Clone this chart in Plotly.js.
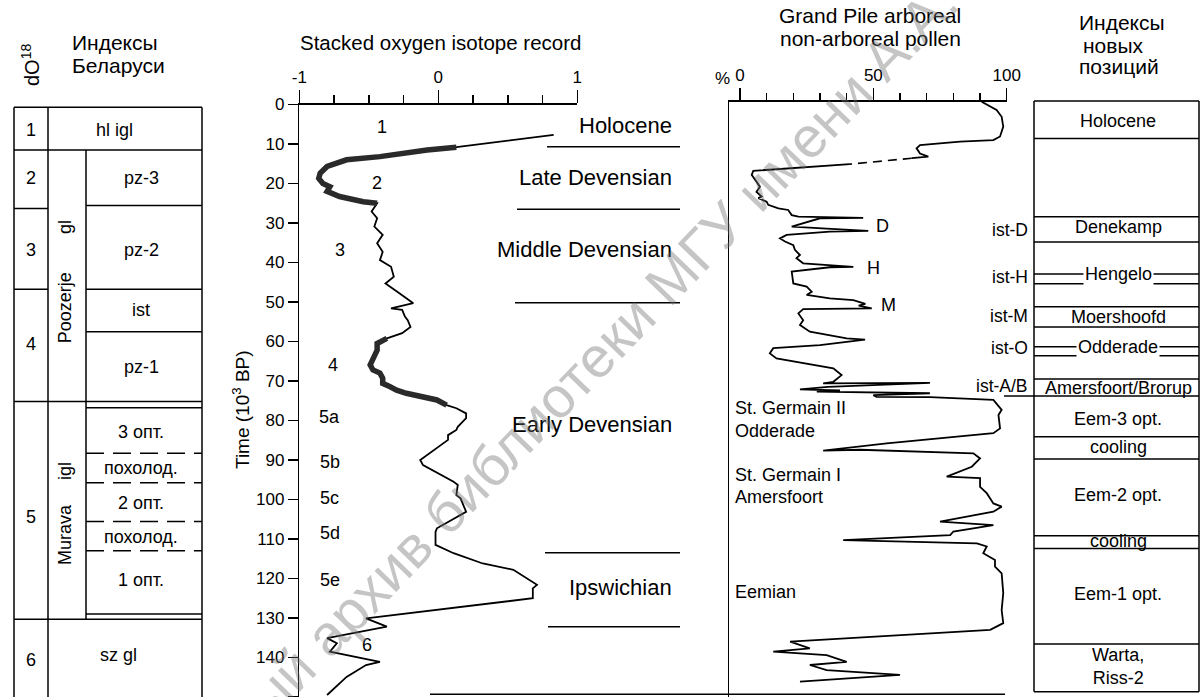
<!DOCTYPE html>
<html><head><meta charset="utf-8">
<script src="https://cdn.plot.ly/plotly-3.0.1.min.js"></script>
<style>html,body{margin:0;padding:0;background:#fff;overflow:hidden}</style>
</head><body><div id="chart" style="width:1201px;height:697px"></div>
<script>
// ================= DATA =================
// Stacked oxygen isotope record (age, ka BP ; normalised d18O)
const isoAge = [7.7, 10.8, 11.5, 13.2, 14.0, 15.7, 17.4, 18.7, 20.0, 20.8, 22.0, 23.3, 24.6, 25.0, 27.1, 28.8, 30.9, 33.0, 35.1, 37.3, 39.4, 41.1, 43.6, 45.3, 47.8, 50.3, 51.6, 52.0, 53.7, 54.6, 56.3, 57.9, 59.2, 60.5, 62.2, 64.7, 65.9, 67.2, 68.0, 69.3, 70.6, 71.4, 72.3, 73.1, 74.0, 74.8, 76.1, 76.9, 78.2, 79.4, 81.6, 82.4, 83.7, 84.9, 90.0, 91.3, 95.5, 96.3, 98.9, 99.7, 103.1, 107.3, 108.2, 111.5, 113.6, 116.2, 117.8, 121.6, 122.5, 125.0, 130.1, 132.2, 135.1, 136.4, 138.5, 141.1, 141.9, 144.9, 149.5];
const isoVal = [0.83, 0.13, -0.08, -0.42, -0.66, -0.80, -0.85, -0.86, -0.83, -0.78, -0.80, -0.71, -0.54, -0.44, -0.48, -0.44, -0.46, -0.40, -0.44, -0.40, -0.42, -0.34, -0.32, -0.38, -0.28, -0.18, -0.34, -0.26, -0.24, -0.22, -0.20, -0.26, -0.37, -0.44, -0.44, -0.48, -0.49, -0.47, -0.42, -0.40, -0.40, -0.35, -0.30, -0.23, -0.11, -0.01, 0.06, 0.13, 0.20, 0.20, 0.14, 0.13, 0.07, 0.07, -0.13, -0.11, 0.11, 0.14, 0.13, 0.16, 0.20, -0.01, -0.02, -0.02, 0.11, 0.32, 0.54, 0.71, 0.68, 0.68, -0.52, -0.37, -0.80, -0.73, -0.78, -0.42, -0.52, -0.66, -0.80];
const isoDenseBands = [[10.8, 25.0], [59.2, 76.1]];
const isoTickVals = [-1, 0, 1];
const isoTickText = ['-1', '0', '1'];
const isoStageLabels = ['1', '2', '3', '4', '5a', '5b', '5c', '5d', '5e', '6'];
const isoStageAge = [5.7, 19.9, 36.8, 65.9, 79.1, 90.5, 99.6, 108.5, 120.4, 136.8];
const isoStageVal = [-0.405, -0.44, -0.71, -0.76, -0.78, -0.78, -0.78, -0.78, -0.78, -0.51];

// Chronostratigraphic stages next to the isotope curve
const stageNames = ['Holocene', 'Late Devensian', 'Middle Devensian', 'Early Devensian', 'Ipswichian'];
const stageNameAge = [5.2, 18.6, 36.8, 81.1, 122.4];
const stageBoundAge = [10.7, 26.5, 50.2, 113.5, 132.2];

// Grand Pile arboreal pollen (%), three pieces: upper, dashed gap, lower
const polAgeA = [-0.7, 1.4, 3.1, 5.6, 8.1, 9.0, 9.4, 10.3, 11.1, 12.4, 13.2, 13.6];
const polValA = [90.6, 96.2, 98.1, 98.7, 97.5, 95.0, 82.5, 67.5, 66.2, 67.5, 70.6, 64.4];
const polGapAge = [13.6, 15.1];
const polGapVal = [64.4, 41.2];
const polAgeB = [15.1, 16.8, 17.8, 20.8, 22.1, 23.3, 23.7, 24.6, 25.4, 26.3, 26.7, 28.0, 28.4, 28.6, 28.7, 28.8, 30.9, 31.4, 32.0, 32.2, 33.0, 33.9, 34.7, 35.6, 36.8, 38.1, 38.9, 40.2, 40.6, 41.1, 41.2, 42.3, 45.3, 46.1, 47.4, 48.2, 49.1, 49.5, 50.5, 50.9, 51.6, 51.8, 52.9, 54.6, 55.8, 57.5, 59.2, 59.5, 60.9, 61.7, 63.0, 64.3, 66.8, 68.5, 70.2, 70.6, 70.5, 71.5, 72.1, 72.4, 72.7, 73.1, 73.6, 74.0, 74.1, 74.8, 77.3, 78.6, 82.0, 83.2, 85.8, 87.0, 87.6, 87.4, 88.3, 89.6, 91.7, 94.2, 94.6, 96.8, 98.4, 101.0, 101.8, 103.1, 105.6, 106.5, 108.1, 109.0, 110.3, 111.1, 111.9, 113.6, 115.3, 117.0, 118.7, 123.7, 128.0, 131.3, 133.0, 136.0, 137.7, 138.5, 139.4, 141.1, 141.9, 143.2, 144.4, 146.1];
const polValB = [41.2, 5.0, 4.4, 7.5, 6.2, 8.1, 6.9, 10.0, 10.6, 14.4, 18.1, 19.4, 21.9, 38.7, 46.2, 30.0, 19.4, 32.5, 48.1, 33.7, 17.5, 15.0, 16.9, 20.0, 20.6, 22.5, 21.2, 23.7, 33.7, 42.5, 33.7, 19.4, 20.0, 25.0, 26.9, 25.0, 33.7, 42.5, 47.0, 44.5, 49.4, 23.7, 21.9, 23.7, 22.5, 26.2, 40.0, 46.9, 30.0, 12.5, 11.2, 13.7, 35.0, 38.1, 35.0, 31.2, 71.2, 33.0, 22.5, 37.5, 28.8, 71.2, 50.0, 51.2, 71.2, 95.0, 98.1, 96.9, 97.5, 95.0, 55.0, 40.0, 31.2, 45.0, 87.5, 90.0, 86.9, 77.5, 90.0, 90.0, 92.5, 95.0, 98.1, 95.0, 75.0, 95.0, 80.0, 78.8, 38.7, 88.8, 92.5, 91.2, 95.6, 95.6, 98.1, 98.7, 98.1, 98.7, 93.8, 18.8, 26.2, 12.5, 32.5, 40.0, 26.2, 32.5, 60.0, 22.5];
const polPeakLabels = ['D', 'H', 'M'];
const polPeakAge = [30.8, 41.4, 50.8];
const polPeakVal = [53.6, 50.2, 55.5];
const polZoneLabels = ['St. Germain II', 'Odderade', 'St. Germain I', 'Amersfoort', 'Eemian'];
const polZoneAge = [76.8, 82.7, 93.8, 99.4, 123.4];

// Left table: Belarus indices (boundaries in ka BP)
const byFullLines = [0.7, 11.5, 75.2, 130.3];
const byCol1Lines = [26.3, 46.8];
const byCol3Lines = [25.6, 46.8, 57.5, 76.8, 129.0];
const byCol3Dashed = [88.3, 95.75, 105.6, 113.0];
const byStageNums = ['1', '2', '3', '4', '5', '6'];
const byStageAge = [6.5, 18.6, 36.8, 60.6, 104.4, 140.6];
const byUnitLabels = ['pz-3', 'pz-2', 'ist', 'pz-1', '3 опт.', 'похолод.', '2 опт.', 'похолод.', '1 опт.'];
const byUnitAge = [18.6, 36.8, 52.0, 66.5, 82.9, 92.0, 100.9, 109.5, 120.4];
const bySpanLabels = ['hl igl', 'sz gl'];
const bySpanAge = [6.5, 139.4];
const byGroupLabels = ['gl', 'Poozerje', 'igl', 'Murava'];
const byGroupAge = [31.0, 51.6, 92.8, 109.0];

// Right table: new position indices
const rtBounds = [-0.9, 8.6, 28.4, 34.8, 42.9, 45.4, 51.2, 56.3, 61.3, 63.6, 69.5, 73.8, 84.1, 89.75, 109.2, 112.4, 136.6, 148.7];
const rtLabels = ['Holocene', 'Denekamp', 'Hengelo', 'Moershoofd', 'Odderade', 'Amersfoort/Brorup', 'Eem-3 opt.', 'cooling', 'Eem-2 opt.', 'cooling', 'Eem-1 opt.', 'Warta,<br>Riss-2'];
const rtLabelAge = [4.2, 31.1, 43.0, 53.7, 61.3, 71.8, 79.5, 86.8, 98.9, 110.6, 123.8, 142.3];
const rtOnLine = ['Hengelo', 'Odderade'];
const istLabels = ['ist-D', 'ist-H', 'ist-M', 'ist-O', 'ist-A/B'];
const istAge = [31.8, 43.6, 53.5, 61.7, 71.2];

const watermark = 'Электронный архив библиотеки МГУ имени А.А. Кулешова';

// ================= DRAWING =================
const W = 1201, H = 697;
const FONT = 'Liberation Sans, Arial, Helvetica, sans-serif';
const px = v => v / W;
const py = v => 1 - v / H;
const T0 = 104.5, PPU = (H - T0) / 150;
const f = (size, color) => ({family: FONT, size: size, color: color || '#000'});

const shapes = [], ann = [];
function hline(t, x0, x1, yref, dash) {
  shapes.push({type: 'line', xref: 'paper', yref: yref, x0: px(x0), x1: px(x1), y0: t, y1: t,
    line: {color: '#000', width: 1.5, dash: dash || 'solid'}});
}
function vline(x, t0, t1, yref) {
  shapes.push({type: 'line', xref: 'paper', yref: yref, x0: px(x), x1: px(x), y0: t0, y1: t1,
    line: {color: '#000', width: 1.5}});
}
function note(text, x, y, o) {
  ann.push(Object.assign({text: text, x: x, y: y, xref: 'paper', yref: 'paper', showarrow: false,
    xanchor: 'center', yanchor: 'middle', font: f(17)}, o || {}));
}

// ---- left table
const LX = [14, 48, 86, 202];
byFullLines.forEach(t => hline(t, LX[0], LX[3], 'y3'));
byCol1Lines.forEach(t => hline(t, LX[0], LX[1], 'y3'));
byCol3Lines.forEach(t => hline(t, LX[2], LX[3], 'y3'));
byCol3Dashed.forEach(t => hline(t, LX[2], LX[3], 'y3', '18px,9px'));
vline(LX[0], byFullLines[0], 150, 'y3');
vline(LX[1], byFullLines[0], 150, 'y3');
vline(LX[3], byFullLines[0], 150, 'y3');
vline(LX[2], byFullLines[1], byFullLines[3], 'y3');
byStageNums.forEach((s, i) => note(s, px(31), byStageAge[i], {yref: 'y3', font: f(18)}));
byUnitLabels.forEach((s, i) => note(s, px(141), byUnitAge[i], {yref: 'y3', font: f(18)}));
note(bySpanLabels[0], px(114), bySpanAge[0], {yref: 'y3', font: f(18)});
note(bySpanLabels[1], px(118), bySpanAge[1], {yref: 'y3', font: f(18)});
byGroupLabels.forEach((s, i) => note(s, px(65), byGroupAge[i], {yref: 'y3', textangle: -90, font: f(18)}));
note('dO<sup>18</sup>', px(30), py(65), {textangle: -90, font: f(20)});
note('Индексы', px(70), py(43), {xanchor: 'left', font: f(21)});
note('Беларуси', px(70), py(65), {xanchor: 'left', font: f(21)});

// ---- isotope panel extras
const stageLineStart = [547, 517, 515, 545, 548];
stageBoundAge.forEach((t, i) => hline(t, stageLineStart[i], 680, 'y'));
stageNames.forEach((s, i) => note(s, px(674), stageNameAge[i], {yref: 'y', xanchor: 'right', font: f(22)}));
isoStageLabels.forEach((s, i) => note(s, isoStageVal[i], isoStageAge[i], {xref: 'x', yref: 'y', font: f(18)}));
note('Stacked oxygen isotope record', px(440), py(42), {font: f(20.5)});
note('Time (10<sup>3</sup> BP)', px(241), py(410), {textangle: -90, font: f(19)});
hline(149.3, 430, 1005, 'y');

// ---- pollen panel extras
polPeakLabels.forEach((s, i) => note(s, polPeakVal[i], polPeakAge[i], {xref: 'x2', yref: 'y2', font: f(18)}));
polZoneLabels.forEach((s, i) => note(s, -2.6, polZoneAge[i], {xref: 'x2', yref: 'y2', xanchor: 'left', font: f(18)}));
note('%', px(722), py(79), {font: f(17)});
note('Grand Pile arboreal', px(870), py(16), {font: f(21)});
note('non-arboreal pollen', px(870), py(39), {font: f(21)});

// ---- right table
rtBounds.forEach(t => hline(t, 1034, 1199, 'y3'));
vline(1034, rtBounds[0], rtBounds[rtBounds.length - 1], 'y3');
vline(1199, rtBounds[0], rtBounds[rtBounds.length - 1], 'y3');
hline(rtBounds[11], 1004, 1034, 'y3');
rtLabels.forEach((s, i) => {
  const o = {yref: 'y3', font: f(18)};
  if (rtOnLine.indexOf(s) >= 0) { o.bgcolor = '#fff'; o.borderpad = 1; }
  note(s, px(1118), rtLabelAge[i], o);
});
istLabels.forEach((s, i) => note(s, px(1030), istAge[i], {yref: 'y3', xanchor: 'right', font: f(17.5)}));
note('Индексы', px(1122), py(23), {font: f(21)});
note('новых', px(1113), py(45), {font: f(21)});
note('позиций', px(1119), py(66), {font: f(21)});

// ---- watermark
note(watermark, px(600), py(352), {textangle: -46, font: f(57, 'rgba(110,110,110,0.40)')});

// ---- traces
const traces = [];
traces.push({x: isoVal, y: isoAge, xaxis: 'x', yaxis: 'y', mode: 'lines', line: {color: '#000', width: 1.8}, hoverinfo: 'skip'});
isoDenseBands.forEach(([a, b]) => {
  const idx = isoAge.map((t, i) => i).filter(i => isoAge[i] >= a && isoAge[i] <= b);
  traces.push({x: idx.map(i => isoVal[i]), y: idx.map(i => isoAge[i]), xaxis: 'x', yaxis: 'y', mode: 'lines',
    line: {color: '#2a2a2a', width: 5.5}, hoverinfo: 'skip'});
});
traces.push({x: polValA, y: polAgeA, xaxis: 'x2', yaxis: 'y2', mode: 'lines', line: {color: '#000', width: 1.8}, hoverinfo: 'skip'});
traces.push({x: polGapVal, y: polGapAge, xaxis: 'x2', yaxis: 'y2', mode: 'lines', line: {color: '#000', width: 1.6, dash: '9px,6px'}, hoverinfo: 'skip'});
traces.push({x: polValB, y: polAgeB, xaxis: 'x2', yaxis: 'y2', mode: 'lines', line: {color: '#000', width: 1.8}, hoverinfo: 'skip'});
traces.push({x: [], y: [], xaxis: 'x3', yaxis: 'y3', mode: 'lines', hoverinfo: 'skip'});

const axLine = {showline: true, linecolor: '#000', linewidth: 1.5, showgrid: false, zeroline: false, fixedrange: true};
const layout = {
  width: W, height: H, margin: {l: 0, r: 0, t: 0, b: 0},
  paper_bgcolor: '#fff', plot_bgcolor: 'rgba(0,0,0,0)', showlegend: false,
  font: f(17),
  xaxis: Object.assign({domain: [px(299.3), px(577.3)], range: [-1, 1], side: 'top', anchor: 'y',
    tickmode: 'array', tickvals: isoTickVals, ticktext: isoTickText, ticks: 'outside', ticklen: 13, tickwidth: 1.5, tickcolor: '#000',
    tickfont: f(17), minor: {tick0: -1, dtick: 0.25, ticks: 'outside', ticklen: 8, tickwidth: 1.5, tickcolor: '#000', showgrid: false}}, axLine),
  yaxis: Object.assign({domain: [0, py(T0)], range: [150, 0], anchor: 'x',
    tickmode: 'linear', tick0: 0, dtick: 10, ticks: 'outside', ticklen: 10, tickwidth: 1.5, tickcolor: '#000',
    tickfont: f(17)}, axLine),
  xaxis2: Object.assign({domain: [px(729), px(1007)], range: [-4.1, 100.1], side: 'top', anchor: 'y2',
    tickmode: 'linear', tick0: 0, dtick: 50, ticks: 'outside', ticklen: 12, tickwidth: 1.5, tickcolor: '#000',
    tickfont: f(17), minor: {tick0: 0, dtick: 10, ticks: 'outside', ticklen: 7, tickwidth: 1.5, tickcolor: '#000', showgrid: false}}, axLine),
  yaxis2: Object.assign({domain: [0, py(T0 - 0.7 * PPU)], range: [150, -0.7], anchor: 'x2',
    ticks: '', showticklabels: false}, axLine),
  xaxis3: {domain: [0, 1], range: [0, 1], anchor: 'y3', visible: false, fixedrange: true},
  yaxis3: {domain: [0, py(T0 - 1.2 * PPU)], range: [150, -1.2], anchor: 'x3', visible: false, fixedrange: true},
  shapes: shapes,
  annotations: ann
};

Plotly.newPlot('chart', traces, layout, {displayModeBar: false, staticPlot: true});
</script></body></html>
